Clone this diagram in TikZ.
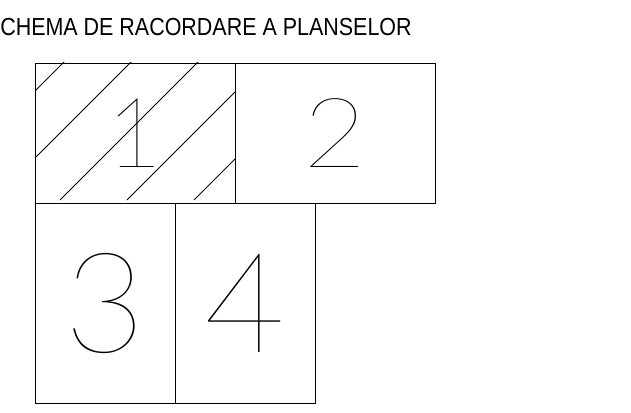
\documentclass[tikz,border=0pt]{standalone}
\usepackage{fontspec}
\setmainfont{Liberation Sans}
\newfontfamily\cadfont{Lato Hairline}
\usetikzlibrary{positioning}

\begin{document}
\begin{tikzpicture}[
    x=0.75pt, y=-0.75pt,
    sheet/.style={draw, line width=0.6pt, inner sep=0pt, outer sep=0pt},
    wide/.style={sheet, minimum width=150pt, minimum height=105pt,
                 font=\cadfont\fontsize{73}{73}\selectfont},
    tall/.style={sheet, minimum width=105pt, minimum height=150pt,
                 font=\cadfont\fontsize{105}{105}\selectfont},
    hatch/.style={line width=0.6pt},
]
\useasboundingbox (0,0) rectangle (631,413);

\node[anchor=base west, inner sep=0pt, font=\fontsize{18.5}{20}\selectfont]
    (title) at (0,36) {\scalebox{0.87}[1]{CHEMA DE RACORDARE A PLANSELOR}};

% the four sheets
\node[wide, anchor=north west] (p1) at (35,63) {1};
\node[wide, right=0pt of p1] (p2) {\scalebox{1.12}[1]{2}};
\node[tall, anchor=north west] (p3) at (p1.south west) {3};
\node[tall, anchor=north west] (p4) at (p3.north east) {4};

% hatching of sheet 1
\begin{scope}
  \clip (p1.south west) rectangle (p1.north east);
  \foreach \k in {126,193,...,394}
    \draw[hatch] (\k-200,200) -- (\k,0);
\end{scope}

\end{tikzpicture}
\end{document}
